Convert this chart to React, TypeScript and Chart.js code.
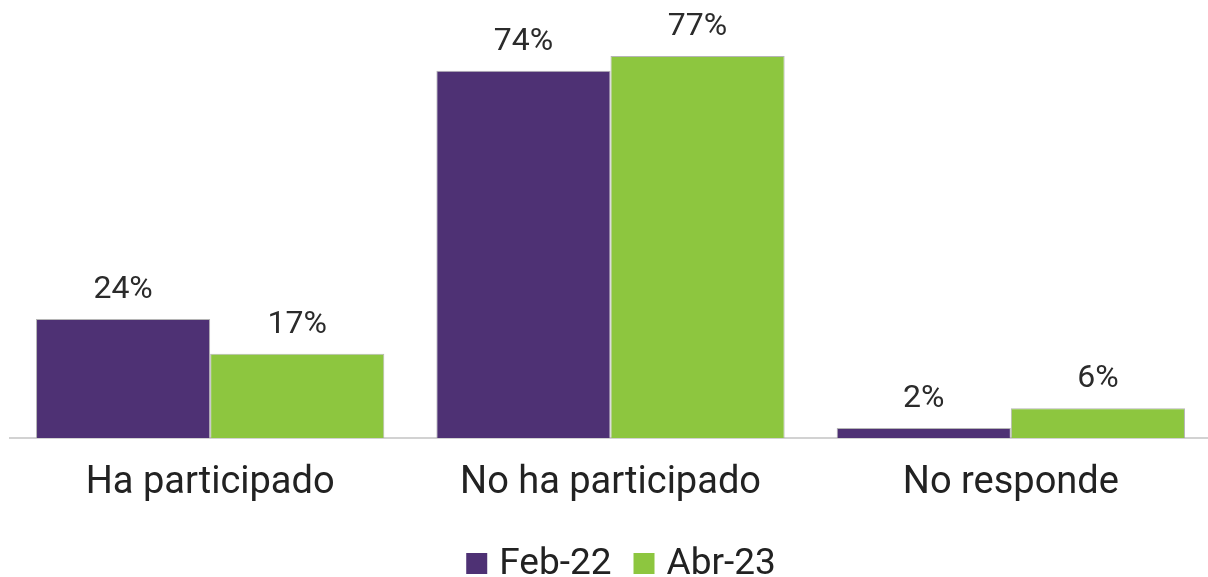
import React, { useEffect, useRef } from "react";
import { Chart, registerables } from "chart.js";

Chart.register(...registerables);

const categories = ["Ha participado", "No ha participado", "No responde"];
const seriesNames = ["Feb-22", "Abr-23"];
const feb22 = [24, 74, 2];
const abr23 = [17, 77, 6];
const seriesColors = ["#4E3174", "#8DC63F"];

const FONT = "Roboto, 'Noto Sans', sans-serif";

const valueLabels = {
  id: "valueLabels",
  afterDatasetsDraw(chart: any) {
    const ctx = chart.ctx;
    ctx.save();
    ctx.font = `32px ${FONT}`;
    ctx.fillStyle = "#2b2b2b";
    ctx.textAlign = "center";
    ctx.textBaseline = "alphabetic";
    chart.data.datasets.forEach((ds: any, di: number) => {
      const meta = chart.getDatasetMeta(di);
      meta.data.forEach((bar: any, i: number) => {
        ctx.fillText(`${ds.data[i]}%`, bar.x, bar.y - 21);
      });
    });
    ctx.restore();
  },
};

const customLegend = {
  id: "customLegend",
  afterDraw(chart: any) {
    const ctx = chart.ctx;
    ctx.save();
    ctx.font = `37px ${FONT}`;
    ctx.textBaseline = "middle";
    ctx.textAlign = "left";
    const box = 21;
    const gap = 12;
    const itemGap = 22;
    const widths = chart.data.datasets.map((ds: any) => box + gap + ctx.measureText(ds.label).width);
    const total = widths.reduce((a: number, b: number) => a + b, 0) + itemGap * (widths.length - 1);
    let x = 621 - total / 2;
    const cy = 563.5;
    chart.data.datasets.forEach((ds: any, i: number) => {
      ctx.fillStyle = ds.backgroundColor;
      ctx.fillRect(x, cy - box / 2, box, box);
      ctx.fillStyle = "#222222";
      ctx.fillText(ds.label, x + box + gap, cy + 1);
      x += widths[i] + itemGap;
    });
    ctx.restore();
  },
};

export default function App() {
  const canvasRef = useRef<HTMLCanvasElement | null>(null);

  useEffect(() => {
    const canvas = canvasRef.current;
    if (!canvas) return;
    const chart = new Chart(canvas, {
      type: "bar",
      data: {
        labels: categories,
        datasets: [
          {
            label: seriesNames[0],
            data: feb22,
            backgroundColor: seriesColors[0],
            borderColor: "rgba(150,150,150,0.7)",
            borderWidth: 1,
            barPercentage: 1,
            categoryPercentage: 0.87,
          },
          {
            label: seriesNames[1],
            data: abr23,
            backgroundColor: seriesColors[1],
            borderColor: "rgba(150,150,150,0.7)",
            borderWidth: 1,
            barPercentage: 1,
            categoryPercentage: 0.87,
          },
        ],
      },
      options: {
        responsive: false,
        animation: false,
        devicePixelRatio: 1,
        layout: { padding: { top: 41, left: 10, right: 1, bottom: 0 } },
        plugins: {
          legend: { display: false },
          tooltip: { enabled: false },
        },
        scales: {
          y: {
            display: false,
            min: 0,
            max: 80,
          },
          x: {
            grid: { display: false, drawTicks: false },
            border: { display: true, color: "#d2d2d2", width: 2 },
            ticks: {
              font: { family: FONT, size: 38 },
              color: "#222222",
              padding: 23,
              maxRotation: 0,
              autoSkip: false,
            },
            afterFit: (scale: any) => {
              scale.height = 139;
            },
          },
        },
      },
      plugins: [valueLabels, customLegend],
    });
    return () => chart.destroy();
  }, []);

  return (
    <div
      style={{
        position: "fixed",
        left: 0,
        top: 0,
        width: 1208,
        height: 577,
        overflow: "hidden",
        background: "#ffffff",
      }}
    >
      <canvas ref={canvasRef} width={1212} height={577} style={{ display: "block" }} />
    </div>
  );
}
